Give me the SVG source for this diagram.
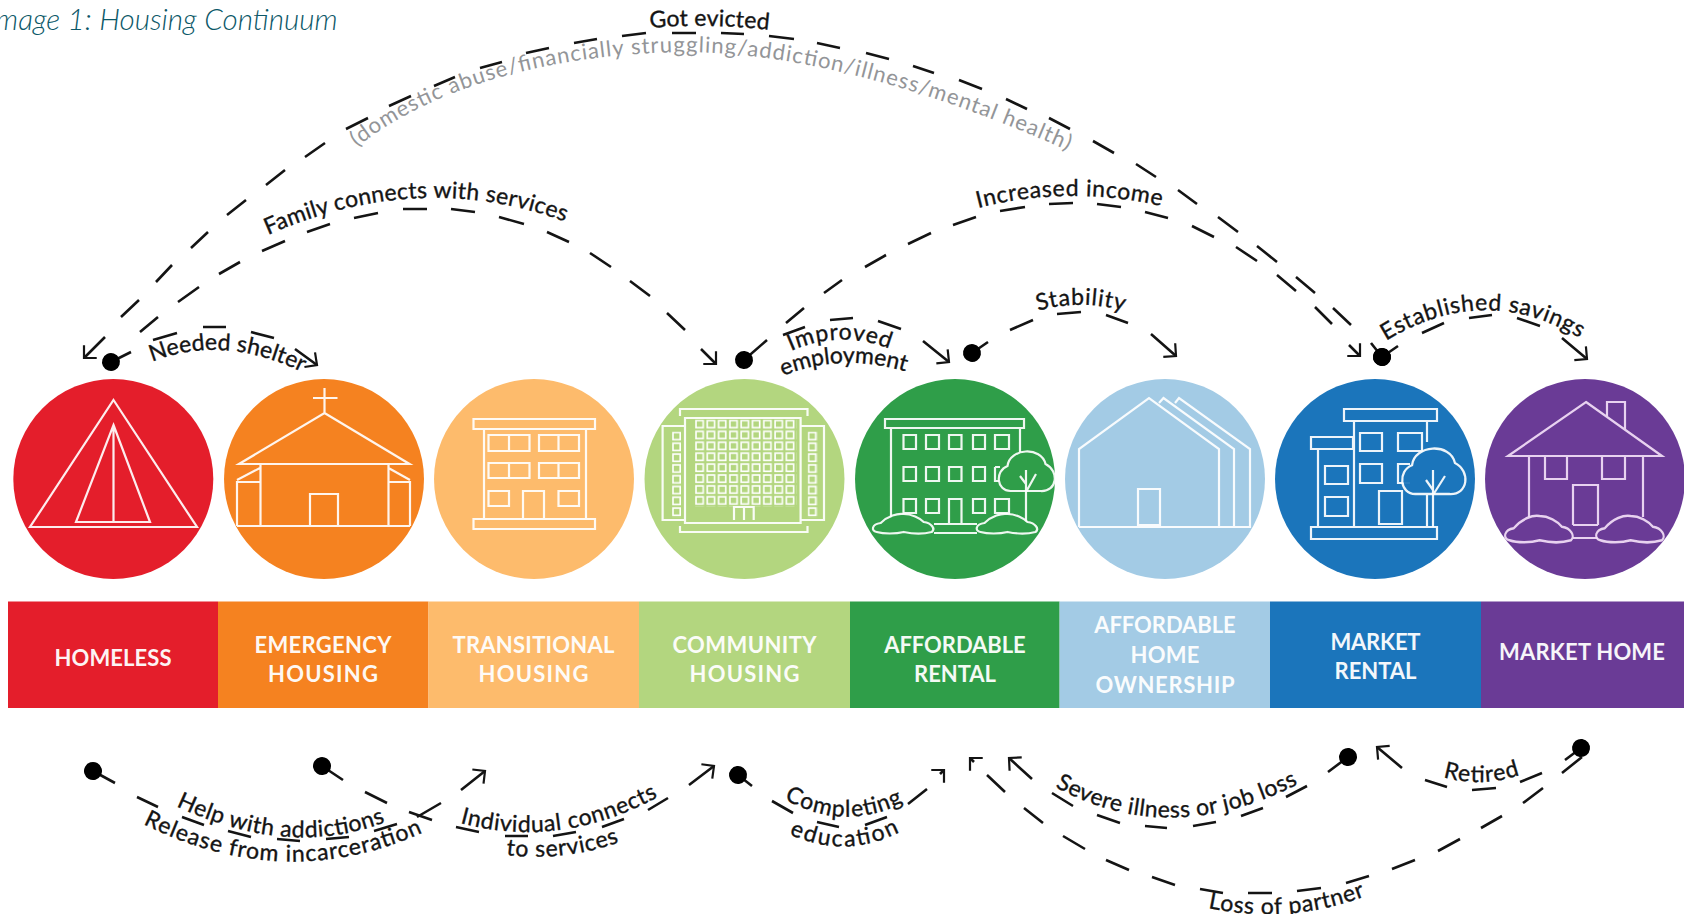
<svg xmlns="http://www.w3.org/2000/svg" width="1684" height="914" viewBox="0 0 1684 914">
<style>
text{font-family:"Lato","Liberation Sans",sans-serif}
.bar{font-size:22px;font-weight:700;fill:#fff;text-anchor:middle;opacity:.95}
.lab{font-size:23px;fill:#141414;stroke:#141414;stroke-width:.35}
.gray{font-size:22px;fill:#939598}
.title{font-size:29.600px;font-style:italic;fill:#0c5868;font-weight:300}
.ic{fill:none;stroke:#fff;stroke-width:2.2;stroke-linejoin:miter;opacity:.92}
.c{fill:none;stroke:#141414;stroke-width:2.6}
</style>
<defs>
<marker id="dot" viewBox="-10 -10 20 20" markerWidth="20" markerHeight="20" markerUnits="userSpaceOnUse" orient="auto"><circle r="9" fill="#000"/></marker>
<marker id="arr" viewBox="-15 -15 30 30" markerWidth="30" markerHeight="30" markerUnits="userSpaceOnUse" orient="auto"><path d="M-9,-9 L0,0 L-9,9" fill="none" stroke="#141414" stroke-width="2.2"/></marker>
<pattern id="gridWin" x="695" y="419.5" width="11.3" height="10.9" patternUnits="userSpaceOnUse"><rect x="1" y="1" width="7.2" height="7.2" fill="none" stroke="#fff" stroke-width="1.6"/></pattern>
<pattern id="sideWin" x="672" y="431.5" width="10" height="10.8" patternUnits="userSpaceOnUse"><rect x="1" y="1" width="7.2" height="7.2" fill="none" stroke="#fff" stroke-width="1.6"/></pattern>
<path id="crown" d="M-16,20 C-30,20 -32,0 -19,-5 C-17,-23 15,-25 19,-7 C33,0 31,21 14,20 Z"/>
<path id="bush" d="M3,18 C-3,17 -2,10 7,9 C14,2 24,-1 30,0 C38,0 46,4 50,8 C58,9 62,15 58,18 C50,20 40,20 30,18 C22,20 10,20 3,18 Z"/>
<path id="guideEvicted" d="M650,28 Q710,23 770,30 L790,33"/>
<path id="guideGray" d="M357,147 C430,90 540,55 680,52 C800,52 930,90 1062,148 L1100,166"/>
<path id="guideFamily" d="M268,235 Q420,168 566,222 L590,233"/>
<path id="guideIncome" d="M978,208 Q1068,185 1161,206 L1185,212"/>
<path id="guideStab" d="M1038,311 Q1082,298 1127,312 L1150,320"/>
<path id="guideSav" d="M1386,341 Q1485,280 1583,340 L1600,352"/>
<path id="guideShelter" d="M152,362 Q225,333 306,374 L330,390"/>
<path id="guideImp" d="M791,351 Q838,330 887,348 L910,358"/>
<path id="guideEmp" d="M783,376 Q840,352 907,372 L930,382"/>
<path id="guideHelp" d="M176,806 Q290,860 388,821 L410,810"/>
<path id="guideRel" d="M143,824 Q285,895 424,832 L445,820"/>
<path id="guideInd" d="M460,823 Q560,850 658,797 L680,782"/>
<path id="guideTo" d="M506,855 Q565,862 620,842 L645,830"/>
<path id="guideComp" d="M784,799 Q845,833 904,802 L925,790"/>
<path id="guideEdu" d="M789,834 Q845,860 900,832 L920,820"/>
<path id="guideSev" d="M1055,787 Q1170,850 1300,783 L1322,770"/>
<path id="guideRet" d="M1443,777 Q1483,788 1520,775 L1540,767"/>
<path id="guideLoss" d="M1208,908 Q1290,925 1366,896 L1390,885"/>
</defs>
<rect width="1684" height="914" fill="#fff"/>
<text class="title" x="-12" y="30">Image 1: Housing Continuum</text>

<g id="node-homeless">
<circle cx="113.3" cy="479" r="100" fill="#E41E2B"/>
<path class="ic" d="M113.5,400 L197,527 H30 Z M113.5,425 L150,522 H76 Z M113.5,425 V522"/>
<rect x="8" y="601.5" width="210" height="106.5" fill="#E41E2B"/>
<text class="bar" x="113" y="666" textLength="117">HOMELESS</text>
</g>
<g id="node-emergency">
<circle cx="324" cy="479" r="100" fill="#F58220"/>
<path class="ic" d="M324.5,388 V413 M313,398 H337.5 M324.5,413 L409.5,464 H239 Z M260.5,464 V526 M388.5,464 V526 M237,526 H410 M237,526 V482 H260.5 M237,480 L260,468 M410,526 V482 H388.5 M410,480 L388.5,468 M310,526 V494 H338 V526"/>
<rect x="218" y="601.5" width="210.5" height="106.5" fill="#F58220"/>
<text class="bar" x="323" y="653" textLength="137">EMERGENCY</text>
<text class="bar" x="323" y="682" textLength="110">HOUSING</text>
</g>
<g id="node-transitional">
<circle cx="534" cy="479" r="100" fill="#FDBB6C"/>
<path class="ic" d="M473.5,419 H595 V429 H473.5 Z M484,429 V519 M586,429 V519 M473.5,519 H595 V529 H473.5 Z M488.5,435 H529.5 V451 H488.5 Z M509,435 V451 M539,435 H579 V451 H539 Z M558.5,435 V451 M488.5,463 H529.5 V478 H488.5 Z M509,463 V478 M539,463 H579 V478 H539 Z M558.5,463 V478 M488.5,491 H509 V506 H488.5 Z M558.5,491 H579 V506 H558.5 Z M523,519 V491 H544 V519"/>
<rect x="428.5" y="601.5" width="210.5" height="106.5" fill="#FDBB6C"/>
<text class="bar" x="533.5" y="653" textLength="162">TRANSITIONAL</text>
<text class="bar" x="533.5" y="682" textLength="110">HOUSING</text>
</g>
<g id="node-community">
<circle cx="744.5" cy="479" r="100" fill="#B3D67F"/>
<path class="ic" d="M680,416 V409 H807.5 V416 M680,526 V532 H807.5 V526 M685,418 H800.6 V523 H685 Z M685,426 H662.6 V520 H685 M800.6,426 H824 V520 H800.6 M734,520 V507 H753.7 V520 M744,507 V520"/>
<rect x="695" y="419.5" width="101.7" height="87.2" fill="url(#gridWin)"/>
<rect x="672" y="431.5" width="10" height="86.4" fill="url(#sideWin)"/>
<rect x="672" y="431.5" width="10" height="86.4" fill="url(#sideWin)" transform="translate(135.600 0)"/>
<rect x="639" y="601.5" width="211" height="106.5" fill="#B3D67F"/>
<text class="bar" x="744.5" y="653" textLength="144">COMMUNITY</text>
<text class="bar" x="744.5" y="682" textLength="110">HOUSING</text>
</g>
<g id="node-affordable-rental">
<circle cx="955" cy="479" r="100" fill="#2F9E49"/>
<path class="ic" d="M885,419 H1024 V428 H885 Z M891,428 V518 M1020,428 V452 M903.5,435 h12.5 v14 h-12.5 Z M926,435 h13 v14 h-13 Z M949,435 h12.5 v14 h-12.5 Z M973,435 h12 v14 h-12 Z M995,435 h14 v14 h-14 Z M903.5,467 h12.5 v14 h-12.5 Z M926,467 h13 v14 h-13 Z M949,467 h12.5 v14 h-12.5 Z M973,467 h12 v14 h-12 Z M995,467 h5 M995,467 v14 h4 M903.5,499 h12.5 v14 h-12.5 Z M926,499 h13 v14 h-13 Z M973,499 h12 v14 h-12 Z M995,499 h14 v14 h-14 Z M949,523 V499 H961.5 V523 M934,524 H977 M934,533 H977"/>
<use href="#crown" class="ic" transform="translate(1026.5 471)" style="fill:#2F9E49"/>
<path class="ic" d="M1026,470 V522 M1020,476 L1026,484 M1036,474 L1026,492"/>
<use href="#bush" class="ic" transform="translate(873.7 514)" style="fill:#2F9E49"/>
<use href="#bush" class="ic" transform="translate(977.5 514)" style="fill:#2F9E49"/>
<rect x="850" y="601.5" width="209.6" height="106.5" fill="#2F9E49"/>
<text class="bar" x="955" y="653" textLength="141.5">AFFORDABLE</text>
<text class="bar" x="955" y="682" textLength="82">RENTAL</text>
</g>
<g id="node-home-ownership">
<circle cx="1165" cy="479" r="100" fill="#A3CBE5"/>
<path class="ic" d="M1079,527 V449 L1149,398 L1219,449 V527 M1159,403 L1163.5,398 L1234,449 V527 M1175,403 L1179,398 L1250,449 V527 H1079 M1138,525 V489 H1160 V525 Z"/>
<rect x="1059.6" y="601.5" width="210.4" height="106.5" fill="#A3CBE5"/>
<text class="bar" x="1165" y="633" textLength="141.5">AFFORDABLE</text>
<text class="bar" x="1165" y="663" textLength="69">HOME</text>
<text class="bar" x="1165" y="693" textLength="139">OWNERSHIP</text>
</g>
<g id="node-market-rental">
<circle cx="1375" cy="479" r="100" fill="#1B75BB"/>
<path class="ic" d="M1344,409 H1437 V421 H1344 Z M1311,437 H1353 V449 H1311 Z M1318,449 V527 M1354,421 V527 M1427,421 V442 M1427,495 V527 M1311,527 H1437 V539 H1311 Z M1360,433 h22 v18 h-22 Z M1398,433 h24 v18 h-24 Z M1360,464 h22 v19 h-22 Z M1410,464 h-12 v19 h12 M1325,466 h23 v18 h-23 Z M1325,497 h23 v19 h-23 Z M1379,491 h23 v33 h-23 Z"/>
<use href="#crown" class="ic" transform="translate(1433.5 471) scale(1.13 1.15)" style="fill:#1B75BB;stroke-width:2"/>
<path class="ic" d="M1433,470 V527 M1426,480 L1433,490 M1445,476 L1433,495"/>
<rect x="1270" y="601.5" width="211" height="106.5" fill="#1B75BB"/>
<text class="bar" x="1375.5" y="650" textLength="90">MARKET</text>
<text class="bar" x="1375.5" y="679" textLength="82">RENTAL</text>
</g>
<g id="node-market-home">
<circle cx="1585" cy="479" r="100" fill="#6A3B96"/>
<path class="ic" d="M1586,402 L1662,456 H1508 Z M1607,417 V402 H1625 V429 M1529,456 V517 M1643,456 V517 M1545,456 V479 H1567 V456 M1602,456 V479 H1625 V456 M1573,525 V485 H1598 V525 M1573,525 H1598 M1573,538 H1598" style="stroke:#f3dff7"/>
<use href="#bush" class="ic" transform="translate(1506 516) scale(1.12 1.35)" style="fill:#6A3B96;stroke:#f3dff7;stroke-width:1.9"/>
<use href="#bush" class="ic" transform="translate(1597 516) scale(1.12 1.35)" style="fill:#6A3B96;stroke:#f3dff7;stroke-width:1.9"/>
<rect x="1481" y="601.5" width="203" height="106.5" fill="#6A3B96"/>
<text class="bar" x="1582" y="660" textLength="166">MARKET HOME</text>
</g>

<g id="connectors">
<path id="c-evicted" class="c" marker-start="url(#dot)" marker-end="url(#arr)" d="M1382,357 L1371,343 M1351,325 L1333,308 M1315,293 L1296,277 M1277,262 L1257,246 M1238,232 L1218,217 M1197,204 L1178,190 M1156,177 L1136,164 M1114,153 L1093,141 M1070,129 L1049,118 M1027,109 L1006,99 M982,89 L959,80 M934,73 L913,66 M889,59 L866,53 M840,48 L817,43 M794,39 L769,36 M744,34 L721,33 M696,33 L672,33 M646,33 L622,36 M597,39 L574,43 M549,48 L526,53 M502,62 L480,68 M455,77 L434,86 M411,96 L389,106 M368,118 L346,129 M325,143 L305,157 M285,170 L266,185 M246,200 L227,215 M208,232 L191,248 M172,265 L156,282 M139,300 L121,317 M105,337 L84,358"/>
<path id="c-family" class="c" marker-start="url(#dot)" marker-end="url(#arr)" d="M111,362 L131,352 M158,317 L140,332 M178,302 L199,287 M219,274 L240,262 M262,251 L285,241 M307,232 L330,224 M354,218 L378,213 M403,209 L427,209 M451,209 L475,212 M499,217 L524,224 M547,232 L569,242 M590,253 L611,267 M630,281 L650,296 M667,313 L685,330 M701,349 L716,364"/>
<path id="c-shelter" class="c" marker-end="url(#arr)" d="M153,340 L177,333 M203,327 L226,327 M251,332 L274,338 M295,349 L317,365"/>
<path id="c-income" class="c" marker-start="url(#dot)" marker-end="url(#arr)" d="M744,360 L767,340 M786,323 L804,308 M824,293 L842,280 M865,267 L886,255 M908,244 L931,233 M953,225 L976,217 M1000,211 L1025,207 M1049,204 L1073,203 M1097,204 L1121,207 M1145,212 L1168,218 M1192,226 L1214,237 M1236,247 L1257,261 M1277,275 L1296,291 M1315,307 L1332,324 M1349,345 L1360,356"/>
<path id="c-improved" class="c" marker-end="url(#arr)" d="M783,335 L805,327 M830,320 L853,318 M878,321 L901,329 M923,341 L949,362"/>
<path id="c-stability" class="c" marker-start="url(#dot)" marker-end="url(#arr)" d="M972,353 L988,342 M1010,330 L1033,320 M1057,314 L1081,312 M1106,315 L1128,323 M1151,334 L1176,356"/>
<path id="c-savings" class="c" marker-start="url(#dot)" marker-end="url(#arr)" d="M1382,357 L1398,346 M1422,333 L1444,323 M1469,318 L1492,315 M1517,318 L1540,326 M1562,338 L1587,359"/>
<path id="c-release" class="c" marker-start="url(#dot)" marker-end="url(#arr)" d="M93,771 L115,783 M137,797 L158,807 M182,817 L204,825 M228,831 L251,837 M277,839 L300,841 M326,839 L349,837 M374,831 L397,824 M417,817 L441,803 M461,790 L485,771"/>
<path id="c-individual" class="c" marker-start="url(#dot)" marker-end="url(#arr)" d="M322,766 L343,780 M365,792 L387,803 M409,812 L432,820 M456,827 L479,832 M505,836 L528,836 M553,836 L576,832 M602,827 L624,819 M648,810 L668,798 M689,785 L714,766"/>
<path id="c-education" class="c" marker-start="url(#dot)" marker-end="url(#arr)" d="M738,775 L752,786 M772,801 L793,813 M817,822 L839,827 M865,825 L887,817 M908,804 L927,789 M940,774 L944,770"/>
<path id="c-severe" class="c" marker-start="url(#dot)" marker-end="url(#arr)" d="M1348,757 L1328,772 M1307,786 L1286,797 M1263,808 L1241,816 M1216,822 L1193,826 M1167,828 L1145,826 M1120,823 L1097,815 M1073,806 L1052,793 M1032,779 L1009,758"/>
<path id="c-retired" class="c" marker-start="url(#dot)" marker-end="url(#arr)" d="M1581,748 L1565,760 M1542,773 L1520,782 M1496,788 L1472,790 M1447,787 L1425,780 M1402,768 L1377,747"/>
<path id="c-loss" class="c" marker-end="url(#arr)" d="M1582,757 L1562,773 M1543,788 L1523,803 M1502,816 L1481,828 M1460,839 L1438,851 M1415,860 L1392,869 M1369,876 L1346,883 M1321,888 L1297,891 M1272,893 L1248,893 M1223,893 L1200,889 M1175,885 L1152,877 M1129,870 L1106,860 M1085,849 L1063,836 M1043,823 L1024,808 M1005,792 L987,775 M974,762 L970,758"/>
</g>

<g id="connector-labels">
<text class="lab"><textPath href="#guideEvicted" textLength="119">Got evicted</textPath></text>
<text class="gray"><textPath href="#guideGray" textLength="745">(domestic abuse/financially struggling/addiction/illness/mental health)</textPath></text>
<text class="lab"><textPath href="#guideFamily" textLength="305">Family connects with services</textPath></text>
<text class="lab"><textPath href="#guideIncome" textLength="185">Increased income</textPath></text>
<text class="lab"><textPath href="#guideStab" textLength="87">Stability</textPath></text>
<text class="lab"><textPath href="#guideSav" textLength="205">Established savings</textPath></text>
<text class="lab"><textPath href="#guideShelter" textLength="155">Needed shelter</textPath></text>
<text class="lab"><textPath href="#guideImp" textLength="101">Improved</textPath></text>
<text class="lab"><textPath href="#guideEmp" textLength="125">employment</textPath></text>
<text class="lab"><textPath href="#guideHelp" textLength="216">Help with addictions</textPath></text>
<text class="lab"><textPath href="#guideRel" textLength="290">Release from incarceration</textPath></text>
<text class="lab"><textPath href="#guideInd" textLength="205">Individual connects</textPath></text>
<text class="lab"><textPath href="#guideTo" textLength="115">to services</textPath></text>
<text class="lab"><textPath href="#guideComp" textLength="125">Completing</textPath></text>
<text class="lab"><textPath href="#guideEdu" textLength="115">education</textPath></text>
<text class="lab"><textPath href="#guideSev" textLength="254">Severe illness or job loss</textPath></text>
<text class="lab"><textPath href="#guideRet" textLength="78">Retired</textPath></text>
<text class="lab"><textPath href="#guideLoss" textLength="160">Loss of partner</textPath></text>
</g>
</svg>
